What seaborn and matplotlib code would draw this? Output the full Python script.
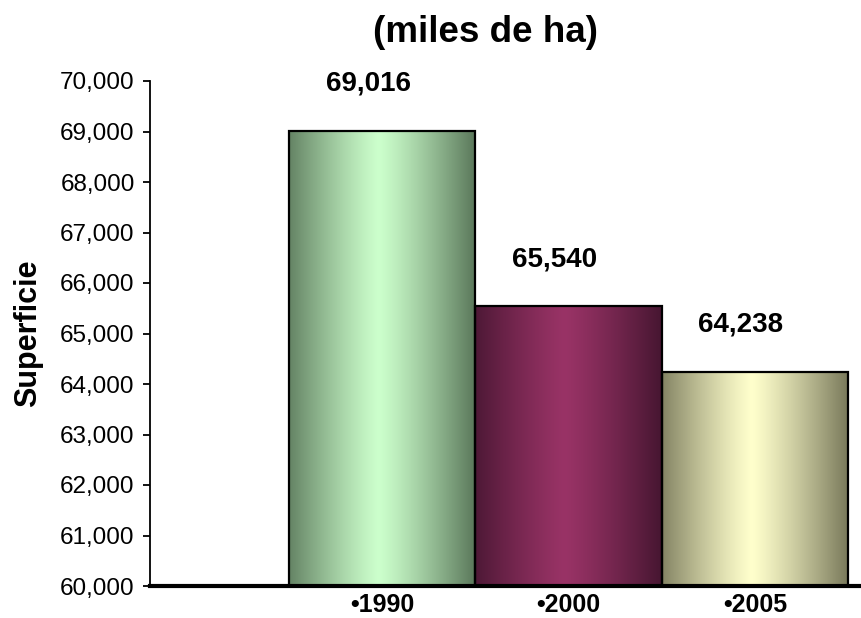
import numpy as np
import matplotlib
matplotlib.use('Agg')
import matplotlib.pyplot as plt
import matplotlib.colors as mcolors
from matplotlib.ticker import StrMethodFormatter, MultipleLocator
import seaborn as sns

# Data
years = ['•1990', '•2000', '•2005']
superficie = [69016, 65540, 64238]
value_labels = ['69,016', '65,540', '64,238']

# light centre / dark edge colours of each bar
centre_colors = ['#CCFFCC', '#993366', '#FFFFCC']
edge_colors = ['#5A775A', '#461631', '#78785A']

sns.set_style('white')
plt.rcParams['font.family'] = ['Liberation Sans', 'DejaVu Sans']
for key in ['text.color', 'axes.labelcolor', 'xtick.color', 'ytick.color']:
    plt.rcParams[key] = 'black'

fig = plt.figure(figsize=(8.62, 6.18), dpi=100)
ax = fig.add_axes([150 / 862, 1 - 586 / 618, 712 / 862, (586 - 81) / 618])

sns.barplot(x=years, y=superficie, hue=years, palette=centre_colors,
            width=1.0, edgecolor='black', linewidth=1.6, legend=False,
            saturation=1, ax=ax)

# cylinder-like horizontal gradient on each bar
patches = sorted(ax.patches, key=lambda p: p.get_x())
xs = np.linspace(0, 1, 256)
t = np.clip(np.abs(xs - 0.48) / 0.52, 0, 1) ** 1.2
for p, c_in, c_out in zip(patches, centre_colors, edge_colors):
    ci = np.array(mcolors.to_rgb(c_in))
    co = np.array(mcolors.to_rgb(c_out))
    grad = (ci[None, :] * (1 - t[:, None]) + co[None, :] * t[:, None])[None, :, :]
    x0 = p.get_x()
    x1 = x0 + p.get_width()
    im = ax.imshow(grad, extent=[x0, x1, 60000, p.get_height()],
                   aspect='auto', zorder=p.get_zorder() + 0.1, interpolation='bilinear')
    im.set_clip_path(p)
    p.set_facecolor('none')
    p.set_zorder(p.get_zorder() + 0.2)

ax.set_ylim(60000, 70000)
ax.set_xlim(-1.245, 2.575)

# value labels
for p, lab in zip(patches, value_labels):
    ax.annotate(lab, (p.get_x() + p.get_width() / 2, p.get_height()),
                xytext=(-14, 47), textcoords='offset pixels',
                ha='center', va='center', fontsize=20, fontweight='bold',
                annotation_clip=False)

ax.yaxis.set_major_locator(MultipleLocator(1000))
ax.yaxis.set_major_formatter(StrMethodFormatter('{x:,.0f}'))
ax.tick_params(axis='y', direction='out', length=5, width=1.3, labelsize=17.5,
               pad=6, left=True)
ax.tick_params(axis='x', length=0, labelsize=18, pad=5)
for lbl in ax.get_xticklabels():
    lbl.set_fontweight('bold')

sns.despine(ax=ax, top=True, right=True)
ax.spines['left'].set_linewidth(1.3)
ax.spines['left'].set_color('black')
ax.spines['bottom'].set_linewidth(3)
ax.spines['bottom'].set_color('black')

ax.set_xlabel('')
ax.set_ylabel('Superficie', fontsize=22, fontweight='bold')
ax.yaxis.set_label_coords(-0.150, 0.5)

fig.text(486 / 862, 1 - 32 / 618, '(miles de ha)', ha='center', va='center',
         fontsize=26.5, fontweight='bold')

fig.savefig('out.png', dpi=100)
